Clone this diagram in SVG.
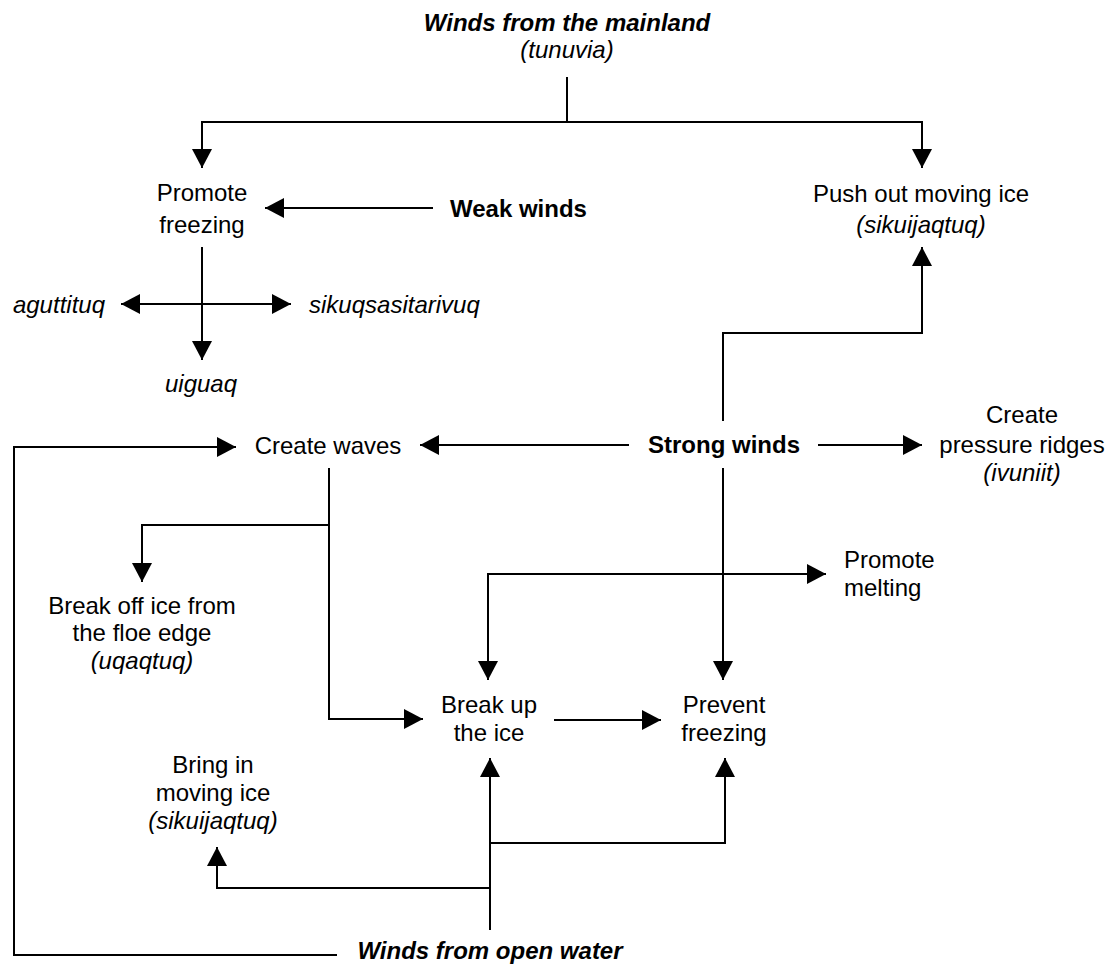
<svg xmlns="http://www.w3.org/2000/svg" width="1110" height="967" viewBox="0 0 1110 967">
<style>
text{font-family:"Liberation Sans",Arial,sans-serif;font-size:24px;fill:#000;text-anchor:middle}
.b{font-weight:bold}
.i{font-style:italic}
.s{text-anchor:start}
.e{text-anchor:end}
.c{fill:none;stroke:#000;stroke-width:2}
</style>
<defs>
<marker id="ah" markerUnits="userSpaceOnUse" markerWidth="22" markerHeight="22" refX="19" refY="10" orient="auto-start-reverse"><path d="M0,0 L19,10 L0,20 z" fill="#000"/></marker>
</defs>
<rect width="1110" height="967" fill="#fff"/>
<g id="connectors">
<path class="c" d="M567,77 V122"/>
<path class="c" d="M202,168 V122 H922 V168" marker-start="url(#ah)" marker-end="url(#ah)"/>
<path class="c" d="M433,208 H265" marker-end="url(#ah)"/>
<path class="c" d="M202,247 V360" marker-end="url(#ah)"/>
<path class="c" d="M121,304 H291" marker-start="url(#ah)" marker-end="url(#ah)"/>
<path class="c" d="M723,421 V333 H922 V247" marker-end="url(#ah)"/>
<path class="c" d="M629,445 H420" marker-end="url(#ah)"/>
<path class="c" d="M818,445 H922" marker-end="url(#ah)"/>
<path class="c" d="M723,468 V680" marker-end="url(#ah)"/>
<path class="c" d="M488,680 V574 H826" marker-start="url(#ah)" marker-end="url(#ah)"/>
<path class="c" d="M329,468 V719 H423" marker-end="url(#ah)"/>
<path class="c" d="M329,525 H142 V582" marker-end="url(#ah)"/>
<path class="c" d="M554,720 H661" marker-end="url(#ah)"/>
<path class="c" d="M490,930 V758" marker-end="url(#ah)"/>
<path class="c" d="M490,843 H725 V758" marker-end="url(#ah)"/>
<path class="c" d="M490,888 H217 V847" marker-end="url(#ah)"/>
<path class="c" d="M337,955 H14 V447 H236" marker-end="url(#ah)"/>
</g>
<g id="mainland"><text class="b i" x="567" y="31">Winds from the mainland</text><text class="i" x="567" y="58">(tunuvia)</text></g>
<g id="promote-freezing"><text x="202" y="201">Promote</text><text x="202" y="233">freezing</text></g>
<g id="weak-winds"><text class="b s" x="450" y="217">Weak winds</text></g>
<g id="push-out"><text x="921" y="202">Push out moving ice</text><text class="i" x="921" y="233">(sikuijaqtuq)</text></g>
<g id="aguttituq"><text class="i e" x="105" y="313">aguttituq</text></g>
<g id="sikuqsasitarivuq"><text class="i s" x="309" y="313">sikuqsasitarivuq</text></g>
<g id="uiguaq"><text class="i" x="201" y="392">uiguaq</text></g>
<g id="create-waves"><text x="328" y="454">Create waves</text></g>
<g id="strong-winds"><text class="b" x="724" y="453">Strong winds</text></g>
<g id="pressure-ridges"><text x="1022" y="423">Create</text><text x="1022" y="453">pressure ridges</text><text class="i" x="1022" y="481">(ivuniit)</text></g>
<g id="break-off"><text x="142" y="614">Break off ice from</text><text x="142" y="641">the floe edge</text><text class="i" x="142" y="669">(uqaqtuq)</text></g>
<g id="promote-melting"><text class="s" x="844" y="568">Promote</text><text class="s" x="844" y="596">melting</text></g>
<g id="break-up"><text x="489" y="713">Break up</text><text x="489" y="741">the ice</text></g>
<g id="prevent-freezing"><text x="724" y="713">Prevent</text><text x="724" y="741">freezing</text></g>
<g id="bring-in"><text x="213" y="773">Bring in</text><text x="213" y="801">moving ice</text><text class="i" x="213" y="829">(sikuijaqtuq)</text></g>
<g id="open-water"><text class="b i" x="490" y="959">Winds from open water</text></g>
</svg>
